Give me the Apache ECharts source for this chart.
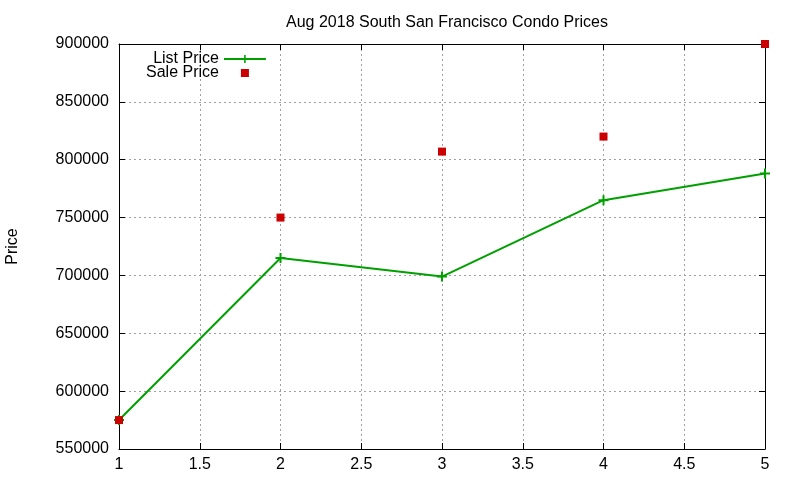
<!DOCTYPE html>
<html>
<head>
<meta charset="utf-8">
<script src="https://cdn.jsdelivr.net/npm/echarts@6/dist/echarts.min.js"></script>
<style>
  html, body { margin: 0; padding: 0; background: #fff; }
  #chart { width: 800px; height: 480px; }
</style>
</head>
<body>
<div id="chart"></div>
<script>
// values
const xValues = [1, 2, 3, 4, 5]
const listPrice = [575000, 715000, 699000, 765000, 788000]
const salePrice = [575000, 750000, 807000, 820000, 900000]

const font = 'Liberation Sans, Arial, sans-serif'
const plusIcon = 'path://M4,0h2v4h4v2h-4v4h-2v-4h-4v-2h4z'
// 8x8 square inside a 10x10 box so the legend swatch stays small
const squareIcon = 'path://M-1,-1h0.01v0.01h-0.01zM0,0h8v8h-8zM8.99,8.99h0.01v0.01h-0.01z'

const chart = echarts.init(document.getElementById('chart'))

const pairs = (ys) => xValues.map((x, i) => [x, ys[i]])

// gnuplot style: full border, inward ticks mirrored on all sides
const hiddenAxis = {
  type: 'value',
  axisLine: { show: true, lineStyle: { color: '#000', width: 1 } },
  axisTick: { show: true, inside: true, length: 6, lineStyle: { color: '#000' } },
  axisLabel: { show: false },
  splitLine: { show: false },
}

const option = {
  animation: false,
  title: {
    text: 'Aug 2018 South San Francisco Condo Prices',
    left: 442,
    textAlign: 'center',
    top: 10,
    textStyle: { fontFamily: font, fontSize: 16, fontWeight: 'normal', color: '#000' },
  },
  legend: {
    orient: 'vertical',
    left: 141,
    top: 46,
    align: 'right',
    itemGap: -2,
    itemWidth: 42,
    itemHeight: 10,
    textStyle: { fontFamily: font, fontSize: 16, color: '#000' },
    data: [
      { name: 'List Price' },
      { name: 'Sale Price', icon: squareIcon, itemStyle: { color: '#cc0000' } },
    ],
  },
  grid: { left: 119, right: 35, top: 44, bottom: 31, outerBoundsMode: 'none' },
  xAxis: [
    {
      type: 'value',
      min: 1,
      max: 5,
      interval: 0.5,
      axisLine: { show: true, lineStyle: { color: '#000', width: 1 } },
      axisTick: { show: true, inside: true, length: 6, lineStyle: { color: '#000' } },
      axisLabel: { fontFamily: font, fontSize: 16, color: '#000', margin: 8 },
      splitLine: { show: true, lineStyle: { color: '#a0a0a0', type: [2, 3], width: 1 } },
    },
    Object.assign({ position: 'top', min: 1, max: 5, interval: 0.5 }, hiddenAxis),
  ],
  yAxis: [
    {
      type: 'value',
      min: 550000,
      max: 900000,
      interval: 50000,
      name: 'Price',
      nameLocation: 'middle',
      nameGap: 98,
      nameRotate: 90,
      nameTextStyle: { fontFamily: font, fontSize: 16, color: '#000' },
      axisLine: { show: true, lineStyle: { color: '#000', width: 1 } },
      axisTick: { show: true, inside: true, length: 6, lineStyle: { color: '#000' } },
      axisLabel: { fontFamily: font, fontSize: 16, color: '#000', margin: 10, formatter: (v) => String(v) },
      splitLine: { show: true, lineStyle: { color: '#a0a0a0', type: [2, 3], width: 1 } },
    },
    Object.assign({ position: 'right', min: 550000, max: 900000, interval: 50000 }, hiddenAxis),
  ],
  series: [
    {
      name: 'List Price',
      type: 'line',
      data: pairs(listPrice),
      symbol: plusIcon,
      symbolSize: 10,
      showAllSymbol: true,
      color: '#00a000',
      lineStyle: { color: '#00a000', width: 2 },
      itemStyle: { color: '#00a000', opacity: 1 },
      z: 2,
    },
    {
      name: 'Sale Price',
      type: 'scatter',
      data: pairs(salePrice),
      symbol: 'rect',
      symbolSize: 8,
      color: '#cc0000',
      itemStyle: { color: '#cc0000', opacity: 1 },
      clip: false,
      z: 3,
    },
  ],
}

chart.setOption(option)
</script>
</body>
</html>
